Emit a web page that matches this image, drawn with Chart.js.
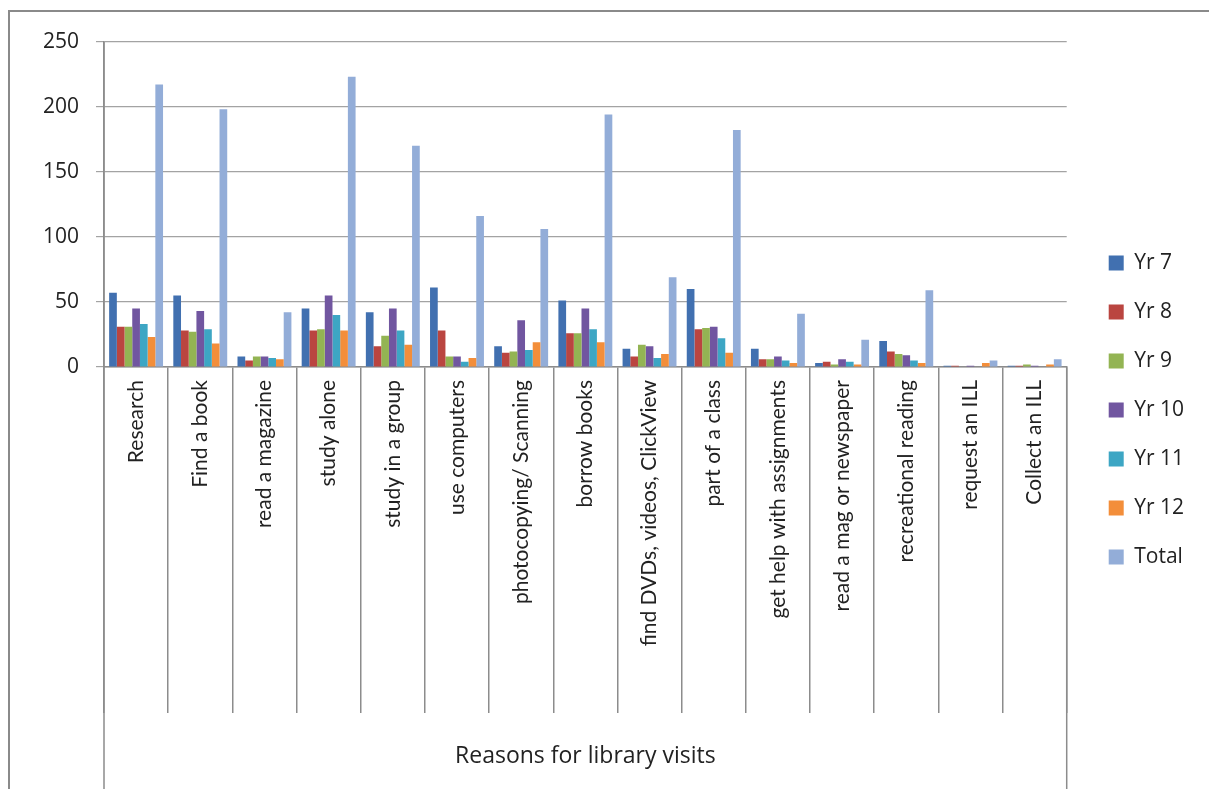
<!DOCTYPE html>
<html>
<head>
<meta charset="utf-8">
<title>Reasons for library visits</title>
<script src="https://cdn.jsdelivr.net/npm/chart.js@4.4.1/dist/chart.umd.min.js"></script>
<style>
  html, body { margin: 0; padding: 0; background: #fff; overflow: hidden; }
  #frame {
    position: absolute; left: 8px; top: 10px;
    width: 1201px; height: 779px;
    border-left: 2px solid #8a8a8a; border-top: 2px solid #8a8a8a;
  }
  #wrap { position: relative; width: 1199px; height: 777px; }
</style>
</head>
<body>
<div id="frame"><div id="wrap"><canvas id="visitsChart"></canvas></div></div>
<script>
// Reasons students gave for visiting the library, by year level
const categories = [
  'Research', 'Find a book', 'read a magazine', 'study alone', 'study in a group',
  'use computers', 'photocopying/ Scanning', 'borrow books', 'find DVDs, videos, ClickView',
  'part of a class', 'get help with assignments', 'read a mag or newspaper',
  'recreational reading', 'request an ILL', 'Collect an ILL'
];
const yr7   = [57, 55, 8, 45, 42, 61, 16, 51, 14, 60, 14, 3, 20, 1, 1];
const yr8   = [31, 28, 5, 28, 16, 28, 11, 26, 8, 29, 6, 4, 12, 1, 1];
const yr9   = [31, 27, 8, 29, 24, 8, 12, 26, 17, 30, 6, 2, 10, 0, 2];
const yr10  = [45, 43, 8, 55, 45, 8, 36, 45, 16, 31, 8, 6, 9, 1, 1];
const yr11  = [33, 29, 7, 40, 28, 4, 13, 29, 7, 22, 5, 4, 5, 0, 0];
const yr12  = [23, 18, 6, 28, 17, 7, 19, 19, 10, 11, 3, 2, 3, 3, 2];
const total = [217, 198, 42, 223, 170, 116, 106, 194, 69, 182, 41, 21, 59, 5, 6];
const yTicks = [0, 50, 100, 150, 200, 250];

const seriesNames = ['Yr 7', 'Yr 8', 'Yr 9', 'Yr 10', 'Yr 11', 'Yr 12', 'Total'];
const seriesData = [yr7, yr8, yr9, yr10, yr11, yr12, total];
const seriesColors = ['#4170B0', '#BA4540', '#93B453', '#7156A0', '#3DA6C4', '#F38E3A', '#93ADD8'];

const FONT = 'Lato, "Open Sans", sans-serif';
const WIDE_FONT = '"Open Sans", Lato, sans-serif';
const TEXT = '#222';
const LINE = '#8c8c8c';

// outer edges of the category axis run down to the bottom of the frame
const axisEdges = {
  id: 'axisEdges',
  afterLayout(chart) {
    // nudge the legend column up a little
    chart.legend.top -= 5;
    chart.legend.bottom -= 5;
  },
  afterDraw(chart) {
    const ctx = chart.ctx;
    const a = chart.chartArea;
    ctx.save();
    ctx.strokeStyle = LINE;
    ctx.lineWidth = 1.5;
    ctx.beginPath();
    ctx.moveTo(a.left, a.top);
    ctx.lineTo(a.left, chart.height);
    ctx.moveTo(a.right, a.bottom);
    ctx.lineTo(a.right, chart.height);
    ctx.stroke();
    ctx.restore();
  }
};

new Chart(document.getElementById('visitsChart'), {
  type: 'bar',
  data: {
    labels: categories,
    datasets: seriesNames.map((name, i) => ({
      label: name,
      data: seriesData[i],
      backgroundColor: seriesColors[i],
      borderWidth: 0,
      barPercentage: 1,
      categoryPercentage: 0.84
    }))
  },
  options: {
    responsive: true,
    maintainAspectRatio: false,
    animation: false,
    layout: { padding: { top: 29, left: 0, right: 15, bottom: 0 } },
    plugins: {
      tooltip: { enabled: false },
      legend: {
        position: 'right',
        align: 'center',
        labels: {
          boxWidth: 15,
          boxHeight: 15,
          padding: 28,
          color: TEXT,
          font: { family: WIDE_FONT, size: 21 }
        }
      }
    },
    scales: {
      x: {
        grid: {
          offset: true,
          drawOnChartArea: false,
          drawTicks: true,
          tickLength: 346,
          color: LINE,
          lineWidth: 1.5
        },
        border: { display: true, color: LINE, width: 1.5 },
        ticks: {
          autoSkip: false,
          minRotation: 90,
          maxRotation: 90,
          padding: -333,
          color: TEXT,
          font: { family: FONT, size: 21 }
        },
        title: {
          display: true,
          text: 'Reasons for library visits',
          color: TEXT,
          font: { family: WIDE_FONT, size: 23 },
          padding: { top: 0, bottom: 19 }
        },
        afterFit(scale) { scale.height = 422; }
      },
      y: {
        min: 0,
        max: 250,
        afterBuildTicks(scale) { scale.ticks = yTicks.map(v => ({ value: v })); },
        grid: { color: '#a3a3a3', lineWidth: 1.2, tickLength: 8, drawTicks: true },
        border: { display: true, color: LINE, width: 1.5 },
        ticks: {
          padding: 17,
          color: TEXT,
          font: { family: WIDE_FONT, size: 21 }
        },
        afterFit(scale) { scale.width = 94; }
      },
      // narrow spacer between plot and legend
      gap: {
        position: 'right',
        display: true,
        grid: { display: false },
        border: { display: false },
        ticks: { display: false },
        afterFit(scale) { scale.width = 14; }
      }
    }
  },
  plugins: [axisEdges]
});
</script>
</body>
</html>
